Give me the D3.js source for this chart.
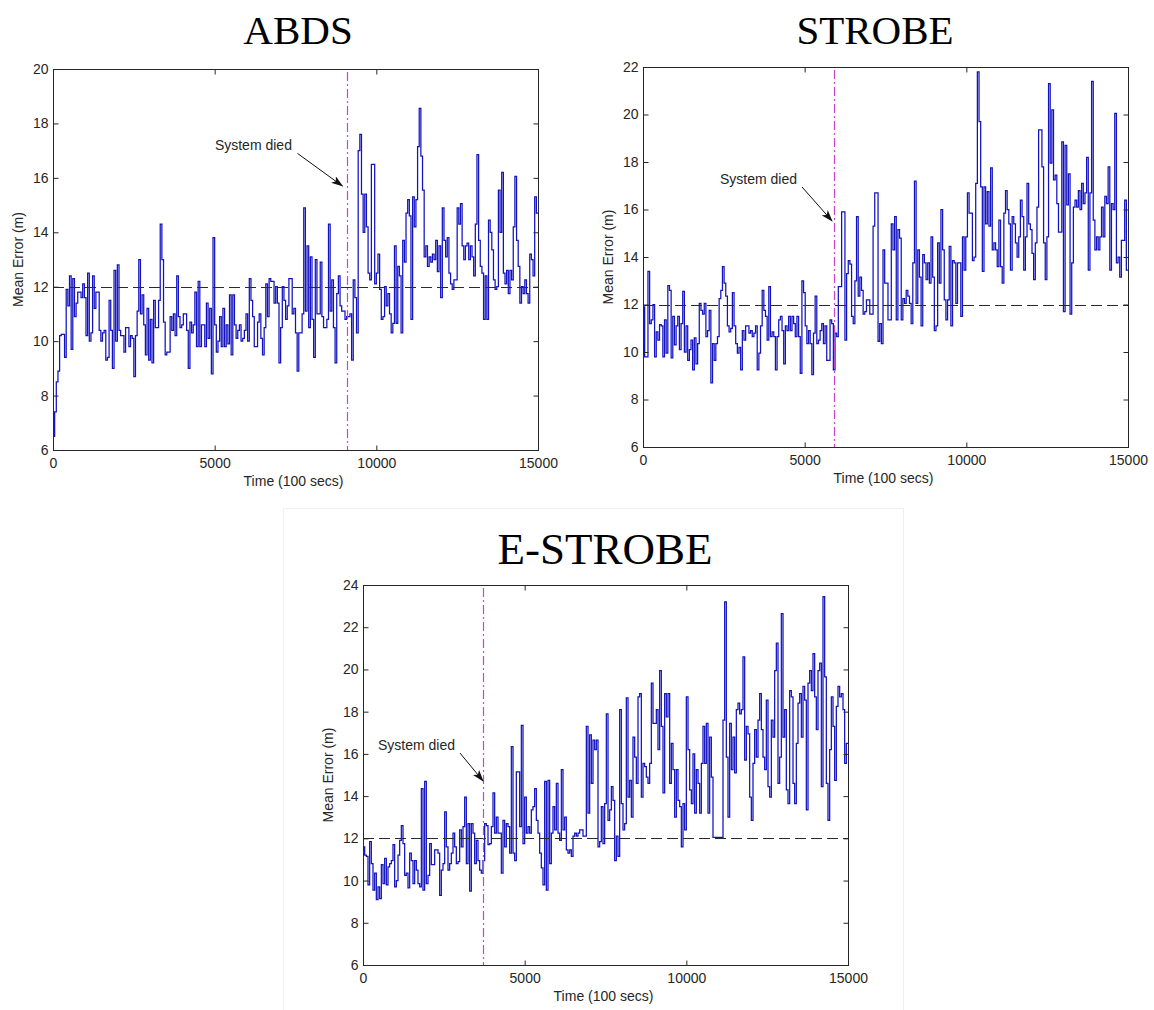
<!DOCTYPE html>
<html>
<head>
<meta charset="utf-8">
<script src="https://cdn.jsdelivr.net/npm/d3@7"></script>
<style>
  html, body { margin: 0; padding: 0; background: #ffffff; }
  svg { display: block; }
  text { font-family: "Liberation Sans", Arial, sans-serif; fill: #262626; }
  .title { font-family: "Liberation Serif", "Times New Roman", serif; fill: #000; }
</style>
</head>
<body>
<svg id="chart" width="1154" height="1010"></svg>
<script>
// ---------------- DATA ----------------
const timeMax = 15000;
const xTickValues = [0, 5000, 10000, 15000];
const panelTitles = ["ABDS", "STROBE", "E-STROBE"];
const yMaxes = [20, 22, 24];
const thresholdValue = 12;
const deathTimes = [9100, 5900, 3700];
const annotationText = "System died";

// mean error series (stair plot), sampled left to right across 0..15000
const abdsValues = [
  6.5, 7.4, 8.5, 8.9, 10.2, 10.25, 10.25, 9.4, 11.9, 11.3, 12.4,
  9.7, 12.3, 10.9, 11.4, 11.8, 11.8, 11.6, 12.1, 11.6, 10.2,
  12.5, 10.0, 10.3, 12.4, 11.2, 11.8, 11.8, 10.4, 10.0, 10.3,
  10.4, 9.3, 9.4, 11.5, 10.4, 9.0, 12.6, 10.0, 12.8, 10.4,
  10.2, 10.2, 9.6, 10.5, 10.5, 9.8, 10.2, 10.1, 8.7, 10.2, 11.1,
  13.0, 11.0, 11.7, 10.6, 9.5, 11.2, 9.3, 10.8, 9.2, 11.5,
  10.5, 10.5, 11.5, 14.3, 13.0, 10.7, 9.5, 9.6, 9.6, 10.9,
  10.4, 11.0, 10.2, 12.4, 10.9, 10.5, 10.6, 11.0, 11.0, 10.4,
  9.0, 10.7, 10.3, 10.6, 11.8, 9.8, 12.2, 9.8, 10.6, 10.6,
  9.8, 11.4, 10.1, 11.2, 8.8, 13.8, 10.6, 9.6, 10.0, 10.9,
  9.8, 11.2, 9.8, 10.6, 9.9, 11.7, 9.5, 11.7, 10.6, 10.1,
  10.4, 10.6, 10.0, 10.1, 10.4, 11.0, 10.0, 12.3, 11.5,
  10.9, 9.8, 9.8, 10.7, 11.0, 10.1, 9.5, 10.5, 12.1, 10.9,
  12.3, 12.2, 12.2, 11.4, 12.0, 11.4, 9.2, 10.5, 12.0, 11.5,
  10.8, 11.3, 12.3, 12.3, 11.0, 11.2, 10.3, 8.9,
  10.3, 10.3, 11.0, 14.9, 11.1, 13.5, 10.5, 13.1, 10.8, 9.4,
  13.0, 11.0, 11.0, 12.9, 10.9, 10.5, 10.5, 10.8, 14.3, 11.1,
  12.25, 10.5, 9.2, 11.75, 12.4, 11.3, 11.1, 11.1, 10.8, 10.9,
  10.9, 11.0, 9.3, 12.25, 11.6, 10.3,
  17.0, 17.6, 15.4, 14.0, 15.4, 14.2, 12.5, 12.25, 16.5,
  16.5, 12.1, 12.5, 13.2, 11.9, 10.8, 10.9, 12.0, 11.3, 11.75,
  11.0, 10.3, 10.65, 13.5, 10.65, 12.75, 12.4, 10.3, 13.7, 12.9,
  14.7, 15.2, 14.6, 10.8, 15.3, 14.2, 15.2, 17.15, 18.55, 16.8,
  15.55, 13.1, 13.5, 12.75, 13.1, 12.9, 13.2, 13.0, 13.7, 12.55,
  13.5, 11.6, 14.9, 13.7, 13.1, 13.8, 12.5, 12.1, 11.9, 12.25,
  12.25, 14.9, 14.3, 15.05, 13.5, 13.0, 13.5, 13.6, 13.0, 13.5,
  13.1, 12.4, 14.3, 16.85, 13.7, 12.75, 12.5, 10.8, 12.4, 10.8,
  14.45, 14.0, 13.35, 12.25, 11.9, 12.0, 15.55, 14.0, 16.2, 12.5,
  12.1, 12.6, 11.75, 12.6, 12.25, 14.2, 16.05, 13.7, 12.75, 11.4,
  12.0, 11.75, 12.25, 11.75, 11.4, 13.2, 13.0, 12.4, 15.3, 14.7
];

const strobeValues = [
  11.9, 9.8, 9.8, 13.4, 11.2, 11.35, 12.0, 9.8, 10.85, 10.5,
  11.15, 11.1, 9.8, 11.35, 9.95, 12.8, 12.6, 9.75, 11.5, 10.3,
  11.1, 11.5, 10.1, 11.2, 12.55, 10.0, 11.1, 9.65, 10.1, 10.5,
  9.25, 10.6, 9.5, 10.35, 12.05, 11.75, 11.6, 12.05, 10.65, 10.9,
  11.75, 8.7, 10.35, 9.65, 10.35, 10.65, 12.25, 12.6, 13.6, 12.9,
  12.35, 11.1, 10.85, 11.0, 12.5, 11.1, 10.35, 9.95, 10.2, 9.25,
  10.9, 10.5, 11.1, 11.1, 10.8, 10.9, 10.65, 10.8, 11.1, 9.25,
  9.95, 11.1, 12.6, 11.75, 11.5, 10.5, 12.75, 10.65, 10.85, 10.65,
  9.25, 10.65, 11.35, 11.5, 10.9, 9.5, 11.1, 10.9, 11.5, 10.9,
  11.5, 11.2, 10.65, 11.5, 10.65, 9.1, 13.0, 12.5, 11.1, 10.35,
  10.9, 10.35, 9.05, 10.8, 12.35, 10.35, 10.5, 10.9, 11.2, 10.35,
  11.1, 9.65, 9.65, 11.35, 11.2, 9.25, 10.8, 10.65, 12.75, 12.75,
  15.9, 15.9, 10.5, 13.3, 13.85, 13.7, 11.5, 11.2, 13.0, 15.7,
  12.35, 13.15, 12.6, 11.6, 11.7, 12.2, 12.2, 11.6, 11.6, 15.3,
  16.7, 16.7, 10.45, 11.2,
  10.35, 14.3, 12.9, 12.9, 11.35, 11.35, 15.4, 14.3, 15.7, 11.35,
  15.15, 14.8, 11.35, 12.25, 12.05, 12.6, 12.35, 12.05, 11.2, 13.75,
  17.2, 12.05, 14.3, 13.15, 11.1, 14.1, 13.75, 13.05, 13.75, 12.9,
  14.85, 13.15, 10.9, 11.1, 14.6, 12.9, 16.0, 14.3, 12.2, 11.35,
  12.2, 14.45, 11.1, 13.85, 13.75, 12.05, 13.75, 13.75, 11.5, 14.85,
  13.45, 14.85, 16.7, 15.85, 15.85, 13.85, 14.0, 17.1, 21.8, 19.7,
  16.95, 13.4, 16.95, 15.4, 16.75, 15.3, 17.75, 14.3, 14.6, 14.3,
  13.6, 15.55, 13.6, 12.9, 15.85, 16.8, 16.0, 15.4, 13.45, 15.7,
  15.4, 14.6, 14.0, 14.85, 16.4, 15.7, 13.45, 14.85, 17.1, 15.4,
  15.15, 14.15, 13.05, 14.6, 16.1, 19.35, 19.35, 17.8, 14.6, 13.05,
  14.85, 21.3, 17.95, 20.2, 17.25, 17.45, 16.25, 15.05, 15.05, 18.85,
  11.7, 18.7, 16.2, 17.5, 11.6, 13.75, 16.1, 16.4, 16.1, 16.8,
  16.0, 17.1, 16.25, 16.7, 18.2, 13.45, 16.7, 21.4, 15.55, 14.3,
  14.85, 14.3, 14.85, 16.1, 14.85, 16.55, 16.25, 17.8, 13.45, 16.25,
  16.0, 20.05, 13.75, 14.0, 13.15, 14.7, 14.7, 16.4, 13.45
];

const eStrobeValues = [
  11.6, 11.2, 11.15, 9.8, 11.85, 10.8, 9.55, 10.35, 9.1, 9.7,
  9.15, 10.75, 9.85, 11.05, 9.8, 10.65, 10.8, 10.95, 11.7, 9.7,
  10.0, 11.2, 11.9, 12.6, 11.75, 10.25, 10.35, 9.65, 11.3, 10.95,
  9.85, 10.95, 10.5, 9.85, 9.7, 14.35, 9.55, 14.7, 9.85, 10.25,
  11.75, 10.75, 10.75, 11.45, 11.45, 11.3, 9.3, 10.5, 10.8, 13.25,
  11.6, 10.5, 10.8, 11.3, 12.25, 11.6, 10.8, 10.9, 12.4, 11.6,
  12.55, 13.95, 10.8, 12.7, 9.5, 12.7, 12.25, 10.8, 11.9, 10.95,
  10.5, 10.35, 10.95, 12.7, 12.6, 11.7, 11.75, 12.55, 14.15, 12.25,
  13.0, 12.25, 12.25, 10.35, 12.85, 11.6, 12.7, 12.55, 11.3, 16.35,
  11.3, 10.95, 15.15, 15.15, 12.55, 17.35, 11.75, 13.95, 12.25, 12.55,
  12.25, 13.35, 13.5, 14.35, 12.85, 12.25, 11.3, 10.6, 9.8, 14.7,
  9.55, 14.75, 10.8, 12.25, 13.5, 12.4, 14.6, 12.25, 11.9, 15.25,
  12.4, 13.0, 11.45, 11.3, 11.45, 11.15, 12.1, 12.25, 12.1, 12.25,
  12.4, 12.4, 12.1, 12.1, 17.3, 13.2, 16.9, 14.6, 16.65, 16.2,
  16.65, 11.6,
  11.85, 13.5, 11.75, 13.65, 17.9, 12.85, 13.35, 14.45, 13.8, 10.95,
  12.1, 11.15, 18.1, 13.65, 12.4, 12.7, 18.65, 13.95, 14.75, 13.0,
  16.8, 15.85, 14.6, 18.7, 18.85, 13.95, 15.55, 15.4, 14.9, 14.6,
  15.55, 19.35, 17.45, 17.45, 18.1, 16.2, 19.95, 17.3, 14.15, 18.85,
  17.75, 18.85, 14.6, 16.5, 15.25, 13.0, 15.25, 13.8, 13.5, 11.6,
  13.65, 12.4, 18.7, 16.2, 14.3, 13.65, 16.0, 13.2, 15.25, 14.6,
  13.2, 15.55, 17.3, 15.55, 17.45, 13.2, 16.8, 14.9, 12.05, 12.05,
  12.05, 12.05, 12.05, 12.05, 17.6, 23.2, 15.85, 13.0, 17.45, 15.25,
  16.8, 15.1, 18.1, 18.4, 17.9, 18.1, 20.6, 15.7, 17.3, 16.95,
  13.95, 12.85, 15.55, 17.15, 15.85, 17.6, 18.85, 17.15, 15.85, 15.25,
  18.55, 14.45, 13.95, 17.6, 16.8, 19.95, 21.25, 14.6, 15.85, 22.65,
  16.8, 18.1, 14.3, 13.65, 19.0, 18.7, 14.6, 13.65, 16.5, 18.4,
  18.85, 16.8, 19.2, 18.55, 13.35, 19.35, 19.95, 19.0, 20.75, 18.7,
  17.15, 19.95, 20.3, 14.45, 23.45, 19.65, 14.6, 12.85, 16.2, 18.7,
  17.3, 14.75, 18.25, 19.2, 18.7, 18.85, 18.1, 15.55, 16.5
];

// annotation anchor points in data units: [textEndX, textY, arrowStartX, arrowStartY, tipX, tipY]
const annotationAnchors = [
  [7390, 17.03, 7560, 16.9, 8950, 15.7],
  [4763, 17.07, 4918, 16.95, 5846, 15.52],
  [2845, 16.18, 3000, 16.04, 3711, 14.72]
];

const seriesList = [abdsValues, strobeValues, eStrobeValues];

// ---------------- LAYOUT ----------------
const layouts = [
  { left: 53, right: 538, top: 69, bottom: 450, titleX: 298, titleY: 44, titleSize: 41, ylabX: 18 },
  { left: 643, right: 1128, top: 67, bottom: 447, titleX: 875, titleY: 44, titleSize: 41, ylabX: 608 },
  { left: 363, right: 848, top: 585, bottom: 965, titleX: 605, titleY: 564, titleSize: 45, ylabX: 328 }
];

const svg = d3.select("#chart");
svg.append("rect").attr("width", 1154).attr("height", 1010).attr("fill", "#fff");

// faint frame of the lower figure
svg.append("rect")
  .attr("x", 283.5).attr("y", 508.5).attr("width", 620).attr("height", 502)
  .attr("fill", "none").attr("stroke", "#f0f0f0").attr("stroke-width", 1);

const defs = svg.append("defs");
defs.append("marker")
  .attr("id", "arrowhead")
  .attr("viewBox", "0 0 12 8")
  .attr("refX", 11).attr("refY", 4)
  .attr("markerWidth", 12).attr("markerHeight", 8)
  .attr("markerUnits", "userSpaceOnUse")
  .attr("orient", "auto")
  .append("path")
  .attr("d", "M0,0 L12,4 L0,8 L3,4 Z")
  .attr("fill", "#111");

seriesList.forEach((values, p) => {
  const L = layouts[p];
  const g = svg.append("g");

  const x = d3.scaleLinear().domain([0, timeMax]).range([L.left, L.right]);
  const y = d3.scaleLinear().domain([6, yMaxes[p]]).range([L.bottom, L.top]);

  const yTicks = d3.range(6, yMaxes[p] + 0.001, 2);

  // data line (stairs)
  const dt = timeMax / values.length;
  const pts = values.map((v, i) => [i * dt, v]);
  pts.push([timeMax, values[values.length - 1]]);
  const line = d3.line()
    .x(d => x(d[0]))
    .y(d => y(d[1]))
    .curve(d3.curveStepAfter);

  g.append("path")
    .datum(pts)
    .attr("d", line)
    .attr("fill", "none")
    .attr("stroke", "#1212c0")
    .attr("stroke-width", 1.25);

  // threshold dashed line
  g.append("line")
    .attr("x1", x(0)).attr("x2", x(timeMax))
    .attr("y1", Math.round(y(thresholdValue)) + 0.5)
    .attr("y2", Math.round(y(thresholdValue)) + 0.5)
    .attr("stroke", "#2a2a2a")
    .attr("stroke-width", 1.2)
    .attr("stroke-dasharray", "11,5");

  // system died vertical dash-dot line
  const dx = Math.round(x(deathTimes[p])) + 0.5;
  g.append("line")
    .attr("x1", dx).attr("x2", dx)
    .attr("y1", y(yMaxes[p]) + 3).attr("y2", y(6))
    .attr("stroke", "#cc44cc")
    .attr("stroke-width", 1.2)
    .attr("stroke-dasharray", "9,3,2,3");

  // axes box
  g.append("rect")
    .attr("x", L.left + 0.5).attr("y", L.top + 0.5)
    .attr("width", L.right - L.left).attr("height", L.bottom - L.top)
    .attr("fill", "none").attr("stroke", "#262626").attr("stroke-width", 1);

  // axes with inward ticks (bottom / left) plus mirrored ticks (top / right)
  const axB = d3.axisBottom(x).tickValues(xTickValues).tickSize(-5).tickPadding(8).tickFormat(d3.format("d"));
  const axT = d3.axisTop(x).tickValues(xTickValues).tickSize(-5).tickFormat("");
  const axL = d3.axisLeft(y).tickValues(yTicks).tickSize(-5).tickPadding(5).tickFormat(d3.format("d"));
  const axR = d3.axisRight(y).tickValues(yTicks).tickSize(-5).tickFormat("");

  const styleAxis = sel => {
    sel.select(".domain").remove();
    sel.selectAll(".tick line").attr("stroke", "#262626");
    sel.selectAll(".tick text")
      .attr("font-family", "'Liberation Sans', Arial, sans-serif")
      .attr("font-size", 14)
      .attr("fill", "#262626");
  };
  g.append("g").attr("transform", `translate(0,${L.bottom + 0.5})`).call(axB).call(styleAxis);
  g.append("g").attr("transform", `translate(0,${L.top + 0.5})`).call(axT).call(styleAxis);
  g.append("g").attr("transform", `translate(${L.left + 0.5},0)`).call(axL).call(styleAxis);
  g.append("g").attr("transform", `translate(${L.right + 0.5},0)`).call(axR).call(styleAxis);

  // axis labels
  g.append("text")
    .attr("x", (L.left + L.right) / 2 - 2)
    .attr("y", L.bottom + 36)
    .attr("text-anchor", "middle")
    .attr("font-size", 14)
    .text("Time (100 secs)");

  g.append("text")
    .attr("transform", `translate(${L.ylabX},${(L.top + L.bottom) / 2}) rotate(-90)`)
    .attr("text-anchor", "middle")
    .attr("dominant-baseline", "central")
    .attr("font-size", 14)
    .text("Mean Error (m)");

  // title
  g.append("text")
    .attr("class", "title")
    .attr("x", L.titleX).attr("y", L.titleY)
    .attr("text-anchor", "middle")
    .attr("font-size", L.titleSize)
    .text(panelTitles[p]);

  // annotation
  const A = annotationAnchors[p];
  g.append("text")
    .attr("x", x(A[0])).attr("y", y(A[1]))
    .attr("text-anchor", "end")
    .attr("font-size", 14)
    .text(annotationText);
  g.append("line")
    .attr("x1", x(A[2])).attr("y1", y(A[3]))
    .attr("x2", x(A[4])).attr("y2", y(A[5]))
    .attr("stroke", "#111").attr("stroke-width", 1)
    .attr("marker-end", "url(#arrowhead)");
});
</script>
</body>
</html>
